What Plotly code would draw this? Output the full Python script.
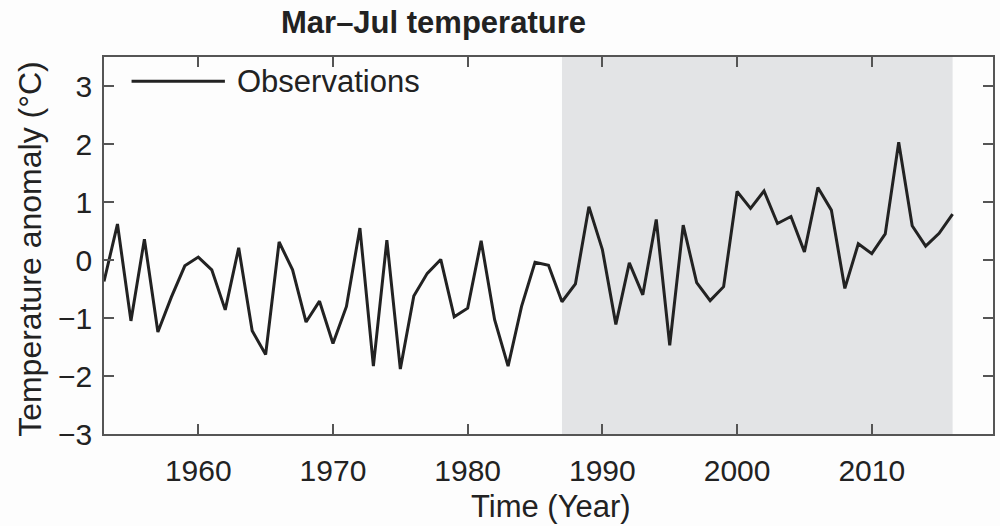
import plotly.graph_objects as go

years = list(range(1953, 2017))
anomaly = [
    -0.37, 0.62, -1.05, 0.36, -1.24, -0.64, -0.10, 0.05, -0.17, -0.86,
    0.21, -1.22, -1.63, 0.31, -0.17, -1.07, -0.71, -1.44, -0.80, 0.55,
    -1.83, 0.34, -1.88, -0.62, -0.23, 0.01, -0.98, -0.83, 0.33, -1.03,
    -1.83, -0.80, -0.04, -0.09, -0.72, -0.41, 0.92, 0.18, -1.11, -0.05,
    -0.60, 0.70, -1.47, 0.60, -0.39, -0.70, -0.46, 1.18, 0.89, 1.19,
    0.63, 0.75, 0.14, 1.25, 0.86, -0.49, 0.28, 0.11, 0.45, 2.03,
    0.59, 0.24, 0.46, 0.79,
]
shade_start, shade_end = 1987, 2016
x_ticks = [1960, 1970, 1980, 1990, 2000, 2010]
y_ticks = [-3, -2, -1, 0, 1, 2, 3]

FONT = "Liberation Sans, Arial, Helvetica, sans-serif"
TXT = "#222222"
AX = "#555555"

fig = go.Figure()
fig.add_trace(go.Scatter(
    x=years, y=anomaly, mode="lines", name="Observations",
    line=dict(color="#222222", width=3), showlegend=False,
))

fig.add_shape(type="rect", xref="x", yref="paper", x0=shade_start, x1=shade_end,
              y0=0, y1=1, fillcolor="#e3e4e6", line=dict(width=0), layer="below")

# legend drawn manually (long line sample)
fig.add_shape(type="line", xref="paper", yref="paper", x0=0.031, x1=0.136,
              y0=0.936, y1=0.936, line=dict(color="#222222", width=3))
fig.add_annotation(xref="paper", yref="paper", x=0.147, y=0.936, text="Observations",
                   showarrow=False, xanchor="left", yanchor="middle",
                   font=dict(size=31, color=TXT, family=FONT))

fig.add_annotation(xref="paper", yref="paper", x=0.371, y=1.092,
                   text="<b>Mar–Jul temperature</b>", showarrow=False,
                   xanchor="center", yanchor="middle",
                   font=dict(size=31, color=TXT, family=FONT))
fig.add_annotation(xref="paper", yref="paper", x=0.503, y=-0.193,
                   text="Time (Year)", showarrow=False,
                   xanchor="center", yanchor="middle",
                   font=dict(size=31, color=TXT, family=FONT))
fig.add_annotation(xref="paper", yref="paper", x=-0.084, y=0.492,
                   text="Temperature anomaly (°C)", showarrow=False, textangle=-90,
                   xanchor="center", yanchor="middle",
                   font=dict(size=32, color=TXT, family=FONT))

fig.update_xaxes(range=[1953, 2019], tickvals=x_ticks, ticks="inside", ticklen=10,
                 tickwidth=1.5, tickcolor=AX, showline=True, linecolor=AX, linewidth=1.5,
                 mirror="ticks", showgrid=False, zeroline=False,
                 tickfont=dict(size=30, color=TXT, family=FONT), ticklabelstandoff=9)
fig.update_yaxes(range=[-3, 3.5], tickvals=y_ticks, ticks="inside", ticklen=10,
                 tickwidth=1.5, tickcolor=AX, showline=True, linecolor=AX, linewidth=1.5,
                 mirror="ticks", showgrid=False, zeroline=False,
                 tickfont=dict(size=30, color=TXT, family=FONT), ticklabelstandoff=4)

fig.update_layout(
    width=1000, height=526,
    margin=dict(l=104, r=5, t=57, b=92),
    paper_bgcolor="#fdfdfd", plot_bgcolor="#fdfdfd",
    font=dict(family=FONT, color=TXT),
)

fig.write_html("out.html")
